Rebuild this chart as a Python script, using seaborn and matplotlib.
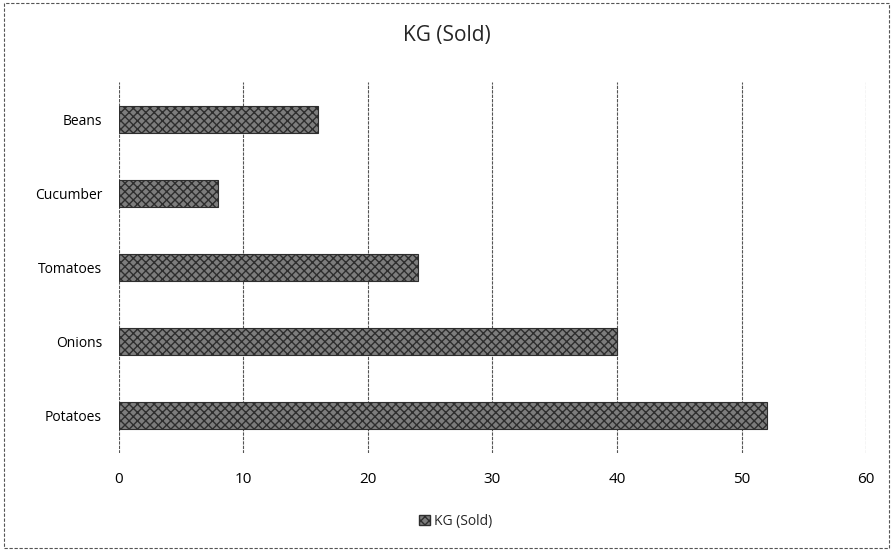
import matplotlib.pyplot as plt
import seaborn as sns
import pandas as pd
from matplotlib.patches import Patch, Rectangle

sns.set_style('white')
plt.rcParams['font.family'] = ['Open Sans', 'DejaVu Sans']

# datos
vegetables = ['Beans', 'Cucumber', 'Tomatoes', 'Onions', 'Potatoes']
kg_sold = [16, 8, 24, 40, 52]
x_ticks = [0, 10, 20, 30, 40, 50, 60]

df = pd.DataFrame({'vegetable': vegetables, 'kg': kg_sold})

fig = plt.figure(figsize=(8.93, 5.51), dpi=100)
ax = fig.add_axes([0.133, 0.178, 0.837, 0.673])

bar_face = '#7d7d7d'
bar_edge = '#2e2e2e'
sns.barplot(data=df, x='kg', y='vegetable', orient='h', width=0.36,
            color=bar_face, saturation=1, ax=ax)
for bar in ax.patches:
    bar.set_hatch('xxxx')
    bar.set_edgecolor(bar_edge)
    bar.set_linewidth(0.8)

ax.set_xlim(0, 60)
ax.set_xticks(x_ticks)
ax.set_xticklabels([str(t) for t in x_ticks], fontsize=11)
ax.tick_params(axis='y', labelsize=10, length=0, pad=12, labelcolor='black')
ax.tick_params(axis='x', length=0, pad=14, labelcolor='black')
ax.set_xlabel('')
ax.set_ylabel('')

# líneas de cuadrícula verticales
ax.xaxis.grid(True, color='#555555', linewidth=0.8, linestyle=(0, (3, 1)))
ax.set_axisbelow(True)
for s in ax.spines.values():
    s.set_visible(False)

fig.suptitle('KG (Sold)', fontsize=15, y=0.955)

handle = Patch(facecolor=bar_face, edgecolor=bar_edge, hatch='xxxx')
fig.legend(handles=[handle], labels=['KG (Sold)'], loc='center',
           bbox_to_anchor=(0.51, 0.054), frameon=False, fontsize=10,
           handlelength=0.8, handleheight=0.8, handletextpad=0.3)

# borde punteado de la figura
fig.patches.append(Rectangle((0.004, 0.006), 0.992, 0.988, transform=fig.transFigure,
                             fill=False, edgecolor='#555555', linewidth=0.8,
                             linestyle=(0, (3, 1.5))))

fig.savefig('out.png', dpi=100)
